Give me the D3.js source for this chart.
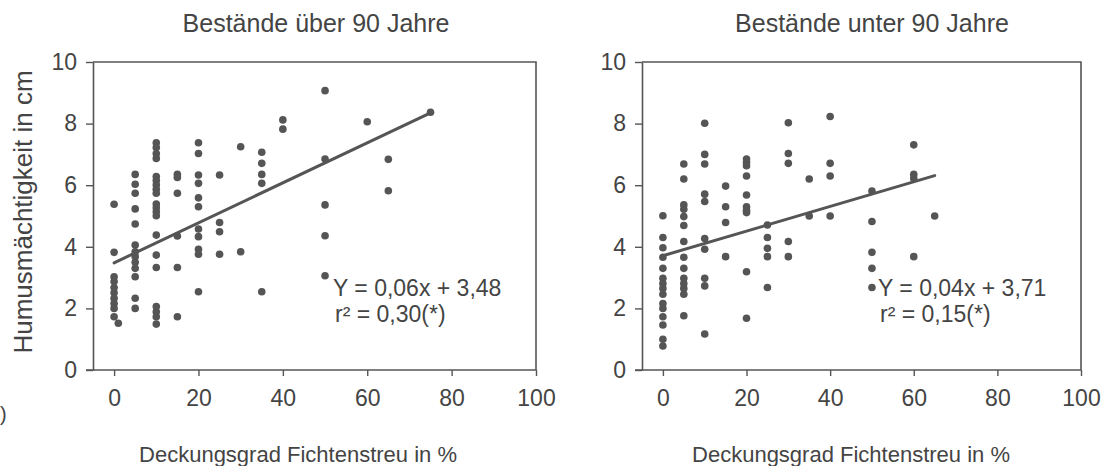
<!DOCTYPE html>
<html>
<head>
<meta charset="utf-8">
<script src="https://cdn.jsdelivr.net/npm/d3@7"></script>
<style>
  html, body { margin: 0; padding: 0; background: #fff; }
  svg { display: block; font-family: "Liberation Sans", Arial, Helvetica, sans-serif; }
</style>
</head>
<body>
<svg id="chart" width="1120" height="466"></svg>
<script>
// Spruce litter cover (%) per plot group, with the humus thickness values (cm) measured at that cover
const oldCover = [0, 1, 5, 10, 15, 20, 25, 30, 35, 40, 50, 60, 65, 75];
const oldHumus = [
  [5.38, 3.82, 3.03, 2.87, 2.68, 2.51, 2.33, 2.16, 2.0, 1.73],
  [1.52],
  [6.35, 6.03, 5.74, 5.23, 4.74, 4.06, 3.84, 3.68, 3.5, 3.3, 3.03, 2.33, 2.0],
  [7.38, 7.22, 7.03, 6.87, 6.28, 6.15, 6.01, 5.87, 5.74, 5.39, 5.27, 5.14, 5.01, 4.38, 3.73, 3.33, 2.06, 1.89, 1.73, 1.49],
  [6.35, 6.25, 5.74, 4.35, 3.33, 1.73],
  [7.38, 7.03, 6.33, 6.06, 5.59, 5.3, 4.58, 4.33, 3.92, 3.76, 2.54],
  [6.33, 4.79, 4.49, 3.76],
  [7.25, 3.84],
  [7.07, 6.71, 6.35, 6.06, 2.54],
  [8.12, 7.82],
  [9.07, 6.85, 5.36, 4.36, 3.06],
  [8.06],
  [6.84, 5.82],
  [8.37]
];

const youngCover = [0, 5, 10, 15, 20, 25, 30, 35, 40, 50, 60, 65];
const youngHumus = [
  [5.01, 4.3, 3.97, 3.66, 3.3, 2.98, 2.81, 2.65, 2.46, 2.16, 2.0, 1.73, 1.46, 1.0, 0.78],
  [6.69, 6.2, 5.36, 5.22, 4.98, 4.69, 4.17, 3.66, 3.3, 2.98, 2.81, 2.65, 2.46, 1.76],
  [8.01, 7.0, 6.69, 5.71, 5.47, 4.27, 3.92, 2.98, 2.73, 1.17],
  [5.97, 5.3, 4.79, 3.68],
  [6.85, 6.74, 6.63, 6.3, 5.68, 5.3, 5.19, 5.11, 3.19, 1.68],
  [4.71, 4.3, 3.95, 3.68, 2.68],
  [8.03, 7.03, 6.71, 4.17, 3.68],
  [6.2, 5.0],
  [8.23, 6.71, 6.3, 5.0],
  [5.81, 4.82, 3.82, 3.3, 2.68],
  [7.31, 6.35, 6.22, 3.68],
  [5.0]
];

// Linear fits (slope, intercept) and coefficients of determination
const oldFit = [0.0649, 3.48];
const youngFit = [0.04, 3.71];
const rSquared = ["0,30(*)", "0,15(*)"];

const panelTitles = ["Bestände über 90 Jahre", "Bestände unter 90 Jahre"];
const xTicks = [0, 20, 40, 60, 80, 100];
const yTicks = [0, 2, 4, 6, 8, 10];
const xLabel = "Deckungsgrad Fichtenstreu in %";
const yLabel = "Humusmächtigkeit in cm";

const ink = "#555";
const textInk = "#444";

const svg = d3.select("#chart");

const panels = [
  { cover: oldCover, humus: oldHumus, fit: oldFit, r2: rSquared[0], title: panelTitles[0],
    left: 93, right: 536, titleX: 316, xLabelX: 298, eqX: 333 },
  { cover: youngCover, humus: youngHumus, fit: youngFit, r2: rSquared[1], title: panelTitles[1],
    left: 642, right: 1081, titleX: 872, xLabelX: 851, eqX: 878 }
];

const plotTop = 62, plotBottom = 370;
const y = d3.scaleLinear().domain([0, 10]).range([plotBottom, plotTop]);
const decimal = v => v.toFixed(2).replace(".", ",");

panels.forEach((p, i) => {
  const x = d3.scaleLinear().domain([-5, 100]).range([p.left, p.right]);
  const g = svg.append("g");

  // frame: top and right edges
  g.append("path")
    .attr("d", `M${p.left},${plotTop}H${p.right}V${plotBottom}`)
    .attr("fill", "none").attr("stroke", ink).attr("stroke-width", 1.6);

  // y axis
  const ya = g.append("g").attr("transform", `translate(${p.left},0)`)
    .call(d3.axisLeft(y).tickValues(yTicks).tickSize(7).tickPadding(9).tickSizeOuter(0));
  // x axis
  const xa = g.append("g").attr("transform", `translate(0,${plotBottom})`)
    .call(d3.axisBottom(x).tickValues(xTicks).tickSize(6).tickPadding(14).tickSizeOuter(0));

  [ya, xa].forEach(a => {
    a.select(".domain").attr("stroke", ink).attr("stroke-width", 1.6);
    a.selectAll(".tick line").attr("stroke", ink).attr("stroke-width", 1.4);
    a.selectAll(".tick text").attr("fill", textInk).style("font-size", "23px")
      .style("font-family", '"Liberation Sans", Arial, sans-serif');
  });
  // bottom axis extends to the frame's right edge
  xa.select(".domain").attr("d", `M${p.left - 7},0H${p.right}`);

  // points
  const pts = p.cover.flatMap((c, k) => p.humus[k].map(h => [c, h]));
  g.append("g").selectAll("circle").data(pts).join("circle")
    .attr("cx", d => x(d[0])).attr("cy", d => y(d[1]))
    .attr("r", 3.8).attr("fill", ink);

  // regression line over the observed cover range
  const [slope, intercept] = p.fit;
  const ext = d3.extent(p.cover);
  g.append("line")
    .attr("x1", x(ext[0])).attr("y1", y(intercept + slope * ext[0]))
    .attr("x2", x(ext[1])).attr("y2", y(intercept + slope * ext[1]))
    .attr("stroke", ink).attr("stroke-width", 3).attr("stroke-linecap", "round");

  // equation
  g.append("text").attr("x", p.eqX).attr("y", 296)
    .attr("fill", textInk).style("font-size", "23px")
    .text(`Y = ${decimal(slope)}x + ${decimal(intercept)}`);
  g.append("text").attr("x", p.eqX + 2).attr("y", 322)
    .attr("fill", textInk).style("font-size", "23px")
    .text(`r² = ${p.r2}`);

  // titles
  g.append("text").attr("x", p.titleX).attr("y", 32).attr("text-anchor", "middle")
    .attr("fill", textInk).style("font-size", "25px").text(p.title);
  g.append("text").attr("x", p.xLabelX).attr("y", 462).attr("text-anchor", "middle")
    .attr("fill", textInk).style("font-size", "22px").text(xLabel);
});

// shared y-axis label
svg.append("text")
  .attr("transform", "translate(32,212) rotate(-90)")
  .attr("text-anchor", "middle").attr("fill", textInk)
  .style("font-size", "26px").text(yLabel);

// closing bracket of the panel letter at the left margin
svg.append("text").attr("x", 0).attr("y", 421)
  .attr("fill", textInk).style("font-size", "20px").text(")");
</script>
</body>
</html>
